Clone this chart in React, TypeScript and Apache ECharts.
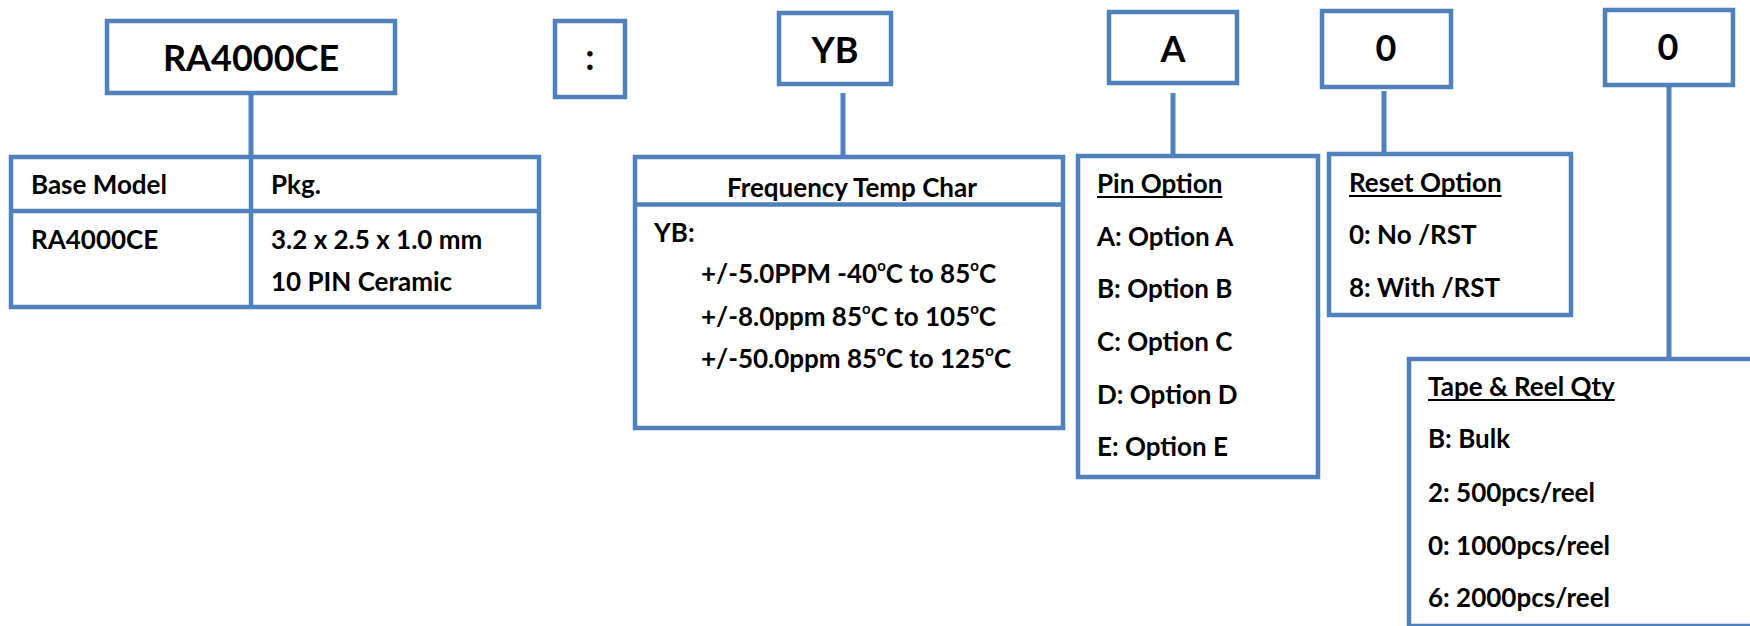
import React, { useEffect, useRef } from "react";
import * as echarts from "echarts";

// ---- content ----
const codeLabels = ["RA4000CE", ":", "YB", "A", "0", "0"];
const baseHeaders = ["Base Model", "Pkg."];
const baseModel = "RA4000CE";
const basePackage = ["3.2 x 2.5 x 1.0 mm", "10 PIN Ceramic"];
const freqTitle = "Frequency Temp Char";
const freqCode = "YB:";
const freqLines = [
  "+/-5.0PPM -40°C to 85°C",
  "+/-8.0ppm 85°C to 105°C",
  "+/-50.0ppm 85°C to 125°C",
];
const pinTitle = "Pin Option";
const pinOptions = ["A: Option A", "B: Option B", "C: Option C", "D: Option D", "E: Option E"];
const resetTitle = "Reset Option";
const resetOptions = ["0: No /RST", "8: With /RST"];
const reelTitle = "Tape & Reel Qty";
const reelOptions = ["B: Bulk", "2: 500pcs/reel", "0: 1000pcs/reel", "6: 2000pcs/reel"];

// ---- style ----
const BLUE = "#4F81BD";
const FONT = "Lato";
const LW = 4.5;
const FS = 26;
const BIG = 36;
const K = 0.387; // central-baseline offset factor

function measure(text: string, fs: number) {
  const c = document.createElement("canvas").getContext("2d")!;
  c.font = `bold ${fs}px ${FONT}`;
  return c.measureText(text).width;
}

function rect(x: number, y: number, w: number, h: number) {
  return {
    type: "rect",
    shape: { x, y, width: w, height: h },
    style: { fill: "none", stroke: BLUE, lineWidth: LW },
  };
}
function line(x1: number, y1: number, x2: number, y2: number, lw = LW, color = BLUE) {
  return {
    type: "line",
    shape: { x1, y1, x2, y2 },
    style: { stroke: color, lineWidth: lw },
  };
}
function txt(text: string, x: number, baseline: number, fs = FS, align = "left") {
  return {
    type: "text",
    x,
    y: baseline - K * fs,
    style: {
      text,
      fontSize: fs,
      fontWeight: "bold",
      fontFamily: FONT,
      fill: "#000",
      align,
      verticalAlign: "middle",
    },
  };
}
function degText(text: string, x: number, baseline: number, fs = FS) {
  const parts = text.split("°");
  let rt = "";
  parts.forEach((p, i) => {
    rt += `{n|${p}}`;
    if (i < parts.length - 1) rt += "{sup|o}";
  });
  return {
    type: "text",
    x,
    y: baseline - K * fs,
    style: {
      text: rt,
      align: "left",
      verticalAlign: "middle",
      rich: {
        n: { fontSize: fs, fontWeight: "bold", fontFamily: FONT, fill: "#000", lineHeight: 30 },
        sup: {
          fontSize: 15,
          fontWeight: "bold",
          fontFamily: FONT,
          fill: "#000",
          lineHeight: 17,
          verticalAlign: "top",
        },
      },
    },
  };
}
function heading(text: string, x: number, baseline: number) {
  const w = measure(text, FS);
  return [txt(text, x, baseline), line(x, baseline + 4, x + w, baseline + 4, 2, "#000")];
}

function buildElements() {
  const els: any[] = [];
  // top code boxes
  const codeBoxes = [
    [107, 21, 288, 72, 251, 71],
    [555, 21, 70, 76, 590, 70],
    [779, 13, 112, 71, 835, 63],
    [1109, 12, 128, 71, 1173, 62],
    [1322, 11, 129, 76, 1386, 61],
    [1605, 10, 128, 75, 1668, 60],
  ];
  codeBoxes.forEach((b, i) => {
    els.push(rect(b[0], b[1], b[2], b[3]));
    els.push(txt(codeLabels[i], b[4], b[5], BIG, "center"));
  });
  // connectors
  els.push(line(251, 95, 251, 157, 5));
  els.push(line(843, 93, 843, 157, 5));
  els.push(line(1173, 93, 1173, 156, 5));
  els.push(line(1384, 91, 1384, 154, 5));
  els.push(line(1669, 87, 1669, 359, 5));

  // base model table
  els.push(rect(11, 157, 528, 150));
  els.push(line(251, 157, 251, 307));
  els.push(line(11, 211, 539, 211));
  els.push(txt(baseHeaders[0], 31, 194));
  els.push(txt(baseHeaders[1], 271, 194));
  els.push(txt(baseModel, 31, 249));
  els.push(txt(basePackage[0], 271, 249));
  els.push(txt(basePackage[1], 271, 291));

  // frequency temp char
  els.push(rect(635, 157, 428, 271));
  els.push(line(635, 204.5, 1063, 204.5));
  els.push(txt(freqTitle, 727, 197));
  els.push(txt(freqCode, 654, 242));
  const freqBase = [283, 326, 368];
  freqLines.forEach((s, i) => els.push(degText(s, 701, freqBase[i])));

  // pin option
  els.push(rect(1078, 156, 240, 321));
  els.push(...heading(pinTitle, 1097, 193));
  const pinBase = [246, 298, 351, 404, 456];
  pinOptions.forEach((s, i) => els.push(txt(s, 1097, pinBase[i])));

  // reset option
  els.push(rect(1329, 154, 242, 161));
  els.push(...heading(resetTitle, 1349, 192));
  const resetBase = [244, 297];
  resetOptions.forEach((s, i) => els.push(txt(s, 1349, resetBase[i])));

  // tape & reel
  els.push(rect(1409, 359, 420, 267));
  els.push(...heading(reelTitle, 1428, 396));
  const reelBase = [448, 502, 555, 607];
  reelOptions.forEach((s, i) => els.push(txt(s, 1428, reelBase[i])));
  return els;
}

export default function App() {
  const ref = useRef<HTMLDivElement>(null);
  useEffect(() => {
    if (!ref.current) return;
    const chart = echarts.init(ref.current, undefined, { renderer: "svg" });
    chart.setOption({
      animation: false,
      backgroundColor: "#ffffff",
      graphic: { elements: buildElements() },
    });
    return () => chart.dispose();
  }, []);
  return (
    <div
      ref={ref}
      style={{ position: "fixed", left: 0, top: 0, width: 1750, height: 626, background: "#fff" }}
    />
  );
}
